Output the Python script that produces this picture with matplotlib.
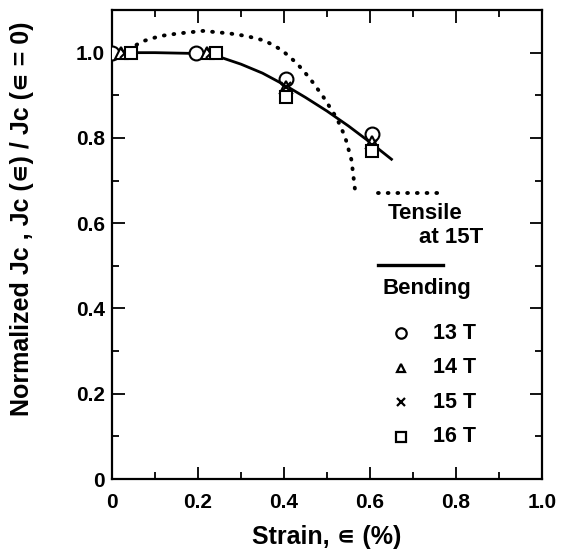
import matplotlib
matplotlib.use("Agg")
import matplotlib.pyplot as plt
from matplotlib.ticker import MultipleLocator, FixedFormatter, FixedLocator

plt.rcParams["font.family"] = ["Liberation Sans", "DejaVu Sans"]
plt.rcParams["font.weight"] = "bold"

# measured points (bending)
strain_13 = [0.0, 0.195, 0.405, 0.605]
jc_13 = [1.0, 1.0, 0.938, 0.810]
strain_14 = [0.02, 0.22, 0.405, 0.605]
jc_14 = [1.0, 1.0, 0.920, 0.790]
strain_15 = [0.03, 0.23, 0.405, 0.605]
jc_15 = [1.0, 1.0, 0.920, 0.783]
strain_16 = [0.045, 0.242, 0.405, 0.605]
jc_16 = [1.0, 1.0, 0.897, 0.770]

# fitted bending curve (solid)
bend_x = [0.0, 0.1, 0.2, 0.25, 0.3, 0.35, 0.4, 0.45, 0.5, 0.55, 0.6, 0.65]
bend_y = [1.0, 1.0, 0.998, 0.99, 0.973, 0.952, 0.925, 0.895, 0.863, 0.828, 0.790, 0.750]

# tensile at 15T (dotted)
tens_x = [0.038, 0.069, 0.112, 0.154, 0.212, 0.274, 0.313, 0.356, 0.395,
          0.430, 0.460, 0.491, 0.523, 0.542, 0.557, 0.565]
tens_y = [1.006, 1.026, 1.039, 1.045, 1.051, 1.045, 1.039, 1.028, 1.006,
          0.975, 0.940, 0.897, 0.846, 0.803, 0.748, 0.680]

series = [
    ("13 T", strain_13, jc_13, "o"),
    ("14 T", strain_14, jc_14, "^"),
    ("15 T", strain_15, jc_15, "x"),
    ("16 T", strain_16, jc_16, "s"),
]
x_ticks = [0, 0.2, 0.4, 0.6, 0.8, 1.0]
x_labels = ["0", "0.2", "0.4", "0.6", "0.8", "1.0"]
y_ticks = [0, 0.2, 0.4, 0.6, 0.8, 1.0]
y_labels = ["0", "0.2", "0.4", "0.6", "0.8", "1.0"]

EPS = "\u220a"  # small element-of, as drawn in the original
DOTS = (0, (0.2, 2.3))

fig = plt.figure(figsize=(5.61, 5.6), dpi=100)
ax = fig.add_axes([0.1996, 0.1446, 0.7665, 0.8375])

ax.plot(tens_x, tens_y, color="black", lw=2.8, ls=DOTS,
        dash_capstyle="round", zorder=2)
ax.plot(bend_x, bend_y, color="black", lw=2.0, zorder=2)

msize = {"o": 10, "^": 8, "x": 7, "s": 8.5}
leg_size = {"o": 7.5, "^": 6, "x": 6, "s": 6.5}
for name, xs, ys, m in series:
    ax.plot(xs, ys, ls="none", marker=m, ms=msize[m], mfc="white",
            mec="black", mew=1.5, zorder=3)

ax.set_xlim(0, 1.0)
ax.set_ylim(0, 1.1)
ax.xaxis.set_major_locator(FixedLocator(x_ticks))
ax.xaxis.set_major_formatter(FixedFormatter(x_labels))
ax.yaxis.set_major_locator(FixedLocator(y_ticks))
ax.yaxis.set_major_formatter(FixedFormatter(y_labels))
ax.xaxis.set_minor_locator(MultipleLocator(0.1))
ax.yaxis.set_minor_locator(MultipleLocator(0.1))
ax.tick_params(which="both", direction="in", top=True, right=True,
               width=1.3, labelsize=15)
ax.tick_params(which="major", length=9)
ax.tick_params(which="minor", length=5)
ax.tick_params(axis="x", pad=10)
ax.tick_params(axis="y", pad=5)
for sp in ax.spines.values():
    sp.set_linewidth(1.6)

ax.set_xlabel(f"Strain, {EPS} (%)", fontsize=18, fontweight="bold")
ax.xaxis.set_label_coords(0.5, -0.124)
ax.xaxis.label.set_va("center")
ax.set_ylabel(f"Normalized Jc , Jc ({EPS}) / Jc ({EPS} = 0)", fontsize=18,
              fontweight="bold")
ax.yaxis.set_label_coords(-0.21, 0.555)
ax.yaxis.label.set_va("center")

# legend drawn by hand, in axes fraction
tr = ax.transAxes
ax.plot([0.619, 0.770], [0.610, 0.610], transform=tr, color="black", lw=2.8,
        ls=DOTS, dash_capstyle="round", clip_on=False)
ax.text(0.642, 0.567, "Tensile", transform=tr, fontsize=16, ha="left", va="center")
ax.text(0.863, 0.516, "at 15T", transform=tr, fontsize=16, ha="right", va="center")
ax.plot([0.619, 0.770], [0.456, 0.456], transform=tr, color="black", lw=2.4)
ax.text(0.630, 0.407, "Bending", transform=tr, fontsize=16, ha="left", va="center")
leg_y = [0.311, 0.237, 0.164, 0.090]
for (name, xs, ys, m), ly in zip(series, leg_y):
    ax.plot([0.672], [ly], transform=tr, marker=m, ms=leg_size[m], mfc="white",
            mec="black", mew=1.6, ls="none")
    ax.text(0.747, ly, name, transform=tr, fontsize=15.5, ha="left", va="center")

fig.savefig("out.png", dpi=100)
